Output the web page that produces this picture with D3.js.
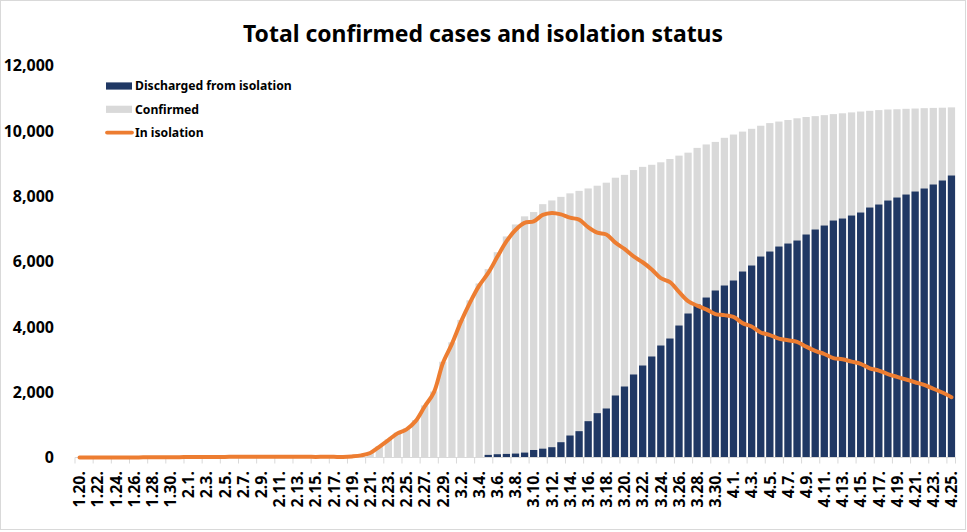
<!DOCTYPE html>
<html>
<head>
<meta charset="utf-8">
<script src="https://cdn.jsdelivr.net/npm/d3@7"></script>
<style>
  body { margin: 0; background: #fff; }
  text { font-family: "Noto Sans", "DejaVu Sans", sans-serif; font-weight: bold; fill: #000; }
</style>
</head>
<body>
<script>
// dates, Jan 20 - Apr 25
var dates = [
  "1.20.","1.21.","1.22.","1.23.","1.24.","1.25.","1.26.","1.27.","1.28.","1.29.","1.30.","1.31.",
  "2.1.","2.2.","2.3.","2.4.","2.5.","2.6.","2.7.","2.8.","2.9.","2.10.","2.11.","2.12.","2.13.","2.14.","2.15.",
  "2.16.","2.17.","2.18.","2.19.","2.20.","2.21.","2.22.","2.23.","2.24.","2.25.","2.26.","2.27.","2.28.","2.29.",
  "3.1.","3.2.","3.3.","3.4.","3.5.","3.6.","3.7.","3.8.","3.9.","3.10.","3.11.","3.12.","3.13.","3.14.","3.15.",
  "3.16.","3.17.","3.18.","3.19.","3.20.","3.21.","3.22.","3.23.","3.24.","3.25.","3.26.","3.27.","3.28.","3.29.",
  "3.30.","3.31.",
  "4.1.","4.2.","4.3.","4.4.","4.5.","4.6.","4.7.","4.8.","4.9.","4.10.","4.11.","4.12.","4.13.","4.14.","4.15.",
  "4.16.","4.17.","4.18.","4.19.","4.20.","4.21.","4.22.","4.23.","4.24.","4.25."
];

var confirmed = [
  1,1,1,1,2,2,3,4,4,4,6,11,
  12,15,15,16,19,23,24,24,27,27,28,28,28,28,28,29,30,31,46,82,156,346,556,763,893,1146,1595,2022,2931,
  3526,4212,4812,5328,5766,6284,6767,7134,7382,7513,7755,7869,7979,8086,8162,8236,8320,8413,8565,8652,
  8799,8897,8961,9037,9137,9241,9332,9478,9583,9661,9786,
  9887,9976,10062,10156,10237,10284,10331,10384,10423,10450,10480,10512,10537,10564,10591,10613,10635,
  10653,10661,10674,10683,10694,10702,10708,10718
];

var discharged = [
  0,0,0,0,0,0,0,0,0,0,0,0,
  0,0,0,0,0,0,0,0,0,0,0,0,0,0,0,0,0,0,0,0,0,0,0,0,0,0,0,0,0,
  0,0,0,0,80,100,110,120,150,230,270,315,468,673,806,1112,1357,1500,1898,2173,
  2541,2816,3092,3428,3642,4040,4408,4683,4897,5112,5265,
  5418,5693,5877,6152,6305,6458,6550,6642,6826,6979,7101,7254,7315,7407,7499,7652,7744,
  7866,7958,8050,8142,8234,8357,8479,8632
];

var isolation = [
  1,1,1,1,2,2,3,4,4,4,6,11,
  12,15,15,16,18,21,22,22,24,24,24,21,21,21,19,20,20,19,34,65,139,328,533,738,862,1113,1561,1987,2888,
  3479,4159,4750,5261,5651,6142,6613,6964,7181,7229,7425,7488,7444,7341,7281,7049,6882,6829,6576,6385,
  6156,5977,5758,5489,5369,5070,4785,4651,4534,4391,4359,
  4304,4114,4011,3827,3749,3640,3589,3542,3393,3263,3168,3044,3005,2935,2867,2732,2661,
  2555,2469,2388,2304,2222,2105,1989,1846
];

var yTicks = [0, 2000, 4000, 6000, 8000, 10000, 12000];

var width = 967, height = 532;

var svg = d3.select("body").append("svg")
    .attr("width", width)
    .attr("height", height);

// chart border
svg.append("rect")
    .attr("x", 0.5).attr("y", 0.5)
    .attr("width", 965).attr("height", 529)
    .attr("fill", "#fff")
    .attr("stroke", "#d9d9d9");

var x = d3.scaleBand()
    .domain(dates)
    .range([75, 956])
    .paddingInner(0.2)
    .paddingOuter(0.1);

var y = d3.scaleLinear()
    .domain([0, 12000])
    .range([457.5, 65.5]);

// title
svg.append("text")
    .attr("x", 483).attr("y", 42)
    .attr("text-anchor", "middle")
    .style("font-size", "23px")
    .attr("textLength", 480)
    .attr("lengthAdjust", "spacingAndGlyphs")
    .text("Total confirmed cases and isolation status");

// y labels
svg.append("g").selectAll("text")
    .data(yTicks)
    .enter().append("text")
    .attr("x", 54)
    .attr("y", function(d) { return y(d); })
    .attr("dy", "0.36em")
    .attr("text-anchor", "end")
    .style("font-size", "16px")
    .text(d3.format(","));

// bars
svg.append("g").selectAll("rect")
    .data(confirmed)
    .enter().append("rect")
    .attr("x", function(d, i) { return x(dates[i]); })
    .attr("width", x.bandwidth())
    .attr("y", function(d) { return y(d); })
    .attr("height", function(d) { return y(0) - y(d); })
    .attr("fill", "#d9d9d9");

svg.append("g").selectAll("rect")
    .data(discharged)
    .enter().append("rect")
    .attr("x", function(d, i) { return x(dates[i]); })
    .attr("width", x.bandwidth())
    .attr("y", function(d) { return y(d); })
    .attr("height", function(d) { return y(0) - y(d); })
    .attr("fill", "#203864");

// x axis line + ticks every 2 days
var ax = svg.append("g");
ax.append("line")
    .attr("x1", x.range()[0]).attr("x2", x.range()[1])
    .attr("y1", y(0)).attr("y2", y(0))
    .attr("stroke", "#d9d9d9");

var step = x.step();
ax.selectAll(".tick")
    .data(dates.filter(function(d, i) { return i % 2 === 0; }))
    .enter().append("line")
    .attr("class", "tick")
    .attr("x1", function(d) { return x(d) - step * x.paddingInner() / 2; })
    .attr("x2", function(d) { return x(d) - step * x.paddingInner() / 2; })
    .attr("y1", y(0)).attr("y2", y(0) + 6)
    .attr("stroke", "#d9d9d9");
ax.append("line")
    .attr("x1", x.range()[1] - 0.5).attr("x2", x.range()[1] - 0.5)
    .attr("y1", y(0)).attr("y2", y(0) + 6)
    .attr("stroke", "#d9d9d9");

ax.selectAll("text")
    .data(dates.filter(function(d, i) { return i % 2 === 0; }))
    .enter().append("text")
    .attr("transform", function(d) {
        return "translate(" + (x(d) + x.bandwidth() / 2) + ",471) rotate(-90)";
    })
    .attr("dy", "0.36em")
    .attr("text-anchor", "end")
    .style("font-size", "16px")
    .text(function(d) { return d; });

// isolation line
var line = d3.line()
    .x(function(d, i) { return x(dates[i]) + x.bandwidth() / 2; })
    .y(function(d) { return y(d); })
    .curve(d3.curveCatmullRom.alpha(0.5));

svg.append("path")
    .datum(isolation)
    .attr("d", line)
    .attr("fill", "none")
    .attr("stroke", "#ed7d31")
    .attr("stroke-width", 4)
    .attr("stroke-linejoin", "round")
    .attr("stroke-linecap", "round");

// legend
var legend = [
  {name: "Discharged from isolation", color: "#203864", type: "bar"},
  {name: "Confirmed", color: "#d9d9d9", type: "bar"},
  {name: "In isolation", color: "#ed7d31", type: "line"}
];

var lg = svg.append("g").selectAll("g")
    .data(legend)
    .enter().append("g")
    .attr("transform", function(d, i) { return "translate(106," + (86 + i * 23.3) + ")"; });

lg.filter(function(d) { return d.type === "bar"; })
    .append("rect")
    .attr("x", 0).attr("y", -3.6)
    .attr("width", 26).attr("height", 7.2)
    .attr("fill", function(d) { return d.color; });

lg.filter(function(d) { return d.type === "line"; })
    .append("line")
    .attr("x1", 1).attr("x2", 26)
    .attr("stroke", function(d) { return d.color; })
    .attr("stroke-width", 3.8)
    .attr("stroke-linecap", "round");

lg.append("text")
    .attr("x", 29)
    .attr("dy", "0.36em")
    .style("font-size", "12.2px")
    .text(function(d) { return d.name; });
</script>
</body>
</html>
